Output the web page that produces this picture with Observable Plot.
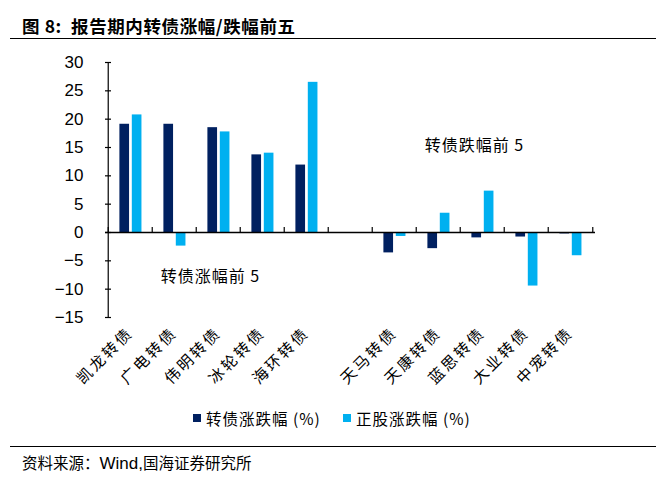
<!DOCTYPE html>
<html>
<head>
<meta charset="utf-8">
<script src="https://cdn.jsdelivr.net/npm/d3@7"></script>
<script src="https://cdn.jsdelivr.net/npm/@observablehq/plot@0.6"></script>
<style>
  body { margin: 0; background: #fff; }
  #wrap { position: relative; width: 670px; height: 479px; overflow: hidden; background: #fff; }
  #title { position: absolute; left: 22px; top: 13px; font: 700 17.5px "Noto Sans CJK SC", sans-serif; letter-spacing: 0.6px; color: #000; white-space: nowrap; }
  .rule { position: absolute; left: 10px; width: 646px; border-top: 1.5px solid #000; }
  #chart { position: absolute; left: 0; top: 40px; }
  #legend { position: absolute; top: 407px; left: 0; width: 670px; font: 15.5px "Noto Sans CJK SC", sans-serif; color: #000; white-space: nowrap; }
  .item { position: absolute; display: flex; align-items: center; }
  .sw { width: 8px; height: 8px; display: inline-block; margin-right: 5px; }
  #footer { position: absolute; left: 22px; top: 451px; font: 15.5px "Noto Sans CJK SC", sans-serif; color: #000; white-space: nowrap; }
  #footer .en { font-family: "Liberation Sans", Arial, sans-serif; font-size: 17px; }
</style>
</head>
<body>
<div id="wrap">
  <div id="title">图 8:&nbsp;&nbsp;报告期内转债涨幅/跌幅前五</div>
  <div class="rule" style="top:38px"></div>
  <div id="chart"></div>
  <div id="legend"></div>
  <div class="rule" style="top:446px"></div>
  <div id="footer">资料来源：<span class="en">Wind,</span>国海证券研究所</div>
</div>
<script>
// ---- data ----
const names = ["凯龙转债", "广电转债", "伟明转债", "冰轮转债", "海环转债", " ", "天马转债", "天康转债", "蓝思转债", "大业转债", "中宠转债"];
const bondChange = [19.1, 19.1, 18.5, 13.7, 11.9, null, -3.6, -2.85, -0.95, -0.8, -0.25];
const stockChange = [20.75, -2.4, 17.75, 14.0, 26.5, null, -0.7, 3.4, 7.3, -9.45, -4.1];
const seriesNames = ["转债涨跌幅 (%)", "正股涨跌幅 (%)"];
const seriesColors = ["#002060", "#00B0F0"];
const yTicks = [-15, -10, -5, 0, 5, 10, 15, 20, 25, 30];
const annoText = ["转债涨幅前 5", "转债跌幅前 5"];
const annoX = ["伟明转债", "蓝思转债"];
const annoY = [-7.8, 15.2];

const bondData = names.map((n, i) => ({name: n, v: bondChange[i]})).filter(d => d.v !== null);
const stockData = names.map((n, i) => ({name: n, v: stockChange[i]})).filter(d => d.v !== null);
const annos = annoText.map((t, i) => ({t, x: annoX[i], y: annoY[i]}));

const W = 670, H = 360;
const mL = 105, mR = 75, mT = 22, mB = 83;
const bw = (W - mL - mR) / names.length;

const chart = Plot.plot({
  width: W,
  height: H,
  marginLeft: mL,
  marginRight: mR,
  marginTop: mT,
  marginBottom: mB,
  style: {fontFamily: "'Liberation Sans', Arial, sans-serif", fontSize: "17px", color: "#000", background: "#fff", overflow: "visible"},
  x: {type: "band", domain: names, padding: 0, axis: null},
  y: {domain: [-15, 30], axis: null},
  marks: [
    Plot.barY(bondData, {x: "name", y: "v", fill: seriesColors[0], insetLeft: 11.4, insetRight: bw - 21.6}),
    Plot.barY(stockData, {x: "name", y: "v", fill: seriesColors[1], insetLeft: 23.8, insetRight: bw - 34.0}),
    Plot.ruleY([0], {stroke: "#000", strokeWidth: 1.5}),
    Plot.ruleX(names, {x: d => d, y1: 0, y2: 0, dx: -bw / 2, insetTop: -5, stroke: "#000", strokeWidth: 1.2}),
    Plot.ruleX(names.slice(-1), {x: d => d, y1: 0, y2: 0, dx: bw / 2, insetTop: -5, stroke: "#000", strokeWidth: 1.2}),
    Plot.ruleX(names.slice(0, 1), {x: d => d, dx: -bw / 2, stroke: "#000", strokeWidth: 1.2}),
    Plot.tickY(yTicks, {y: d => d, insetRight: W - mL - mR - 6, stroke: "#000", strokeWidth: 1.2}),
    Plot.axisY({ticks: yTicks, tickSize: 0, tickPadding: 22, fontSize: 17}),
    Plot.axisX({tickRotate: -45, tickSize: 0, tickPadding: 13, fontSize: 15.5, fontFamily: "'Noto Sans CJK SC', sans-serif", tickFormat: d => d}),
    Plot.text(annos, {x: "x", y: "y", text: "t", dx: -8, fontSize: 16, fontFamily: "'Noto Sans CJK SC', sans-serif", fill: "#000"})
  ]
});
document.getElementById("chart").appendChild(chart);
// letter spacing on category labels and annotations
d3.select(chart).selectAll('[aria-label="x-axis tick label"] text').attr("letter-spacing", "2.5px");
d3.select(chart).selectAll('[aria-label="text"] text').attr("letter-spacing", "1px");

// legend
const legend = document.getElementById("legend");
const lefts = [193, 343];
seriesNames.forEach((s, i) => {
  const it = document.createElement("div");
  it.className = "item";
  it.style.left = lefts[i] + "px";
  const sw = document.createElement("span");
  sw.className = "sw";
  sw.style.background = seriesColors[i];
  const tx = document.createElement("span");
  tx.textContent = s;
  tx.style.letterSpacing = "1px";
  it.appendChild(sw); it.appendChild(tx);
  legend.appendChild(it);
});
</script>
</body>
</html>
